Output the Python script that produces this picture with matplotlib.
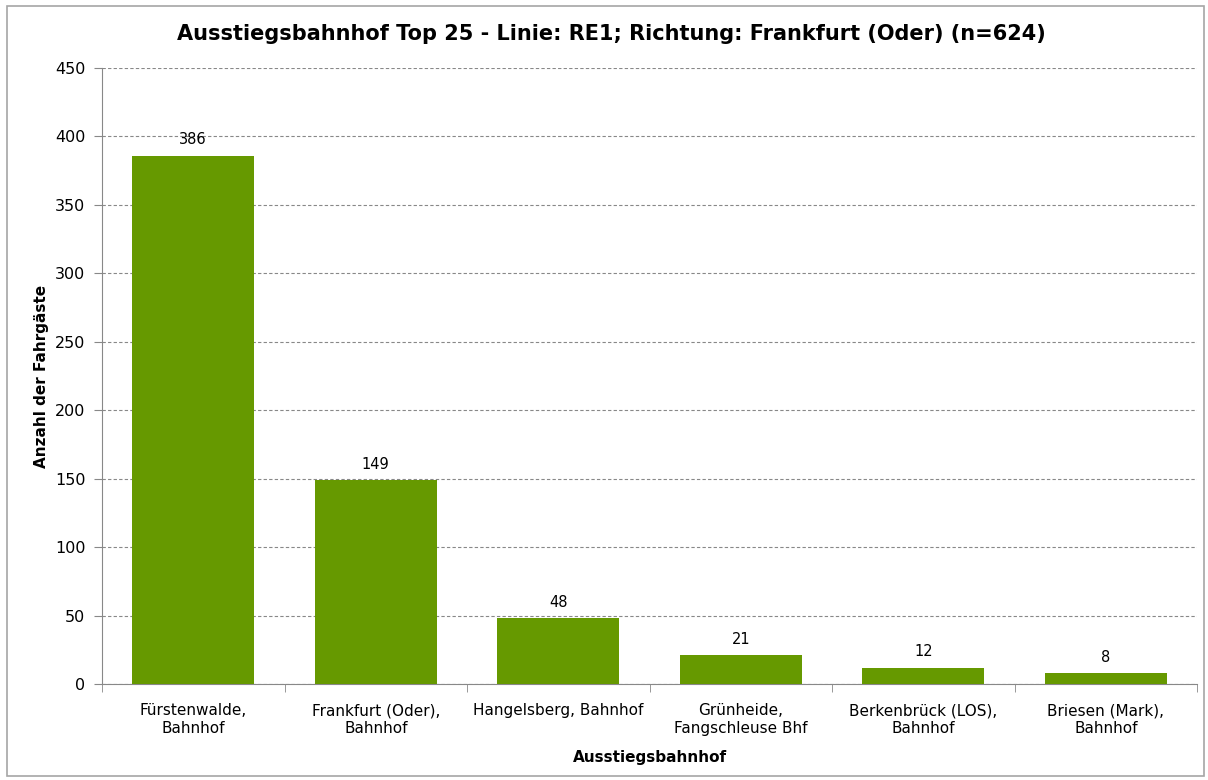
import numpy as np
import matplotlib.pyplot as plt
from matplotlib.patches import Rectangle

stations = ["Fürstenwalde,\nBahnhof", "Frankfurt (Oder),\nBahnhof", "Hangelsberg, Bahnhof",
            "Grünheide,\nFangschleuse Bhf", "Berkenbrück (LOS),\nBahnhof", "Briesen (Mark),\nBahnhof"]
counts = [386, 149, 48, 21, 12, 8]
yticks = [0, 50, 100, 150, 200, 250, 300, 350, 400, 450]

plt.rcParams['font.family'] = ['DejaVu Sans']
fig = plt.figure(figsize=(12.08, 7.8), dpi=100)
fig.patches.append(Rectangle((7 / 1208, 4 / 780), 1197 / 1208, 770 / 780, transform=fig.transFigure,
                             fill=False, edgecolor='#a6a6a6', linewidth=1.2))
ax = fig.add_axes([102 / 1208, 1 - 684 / 780, (1197 - 102) / 1208, (684 - 68) / 780])

xs = np.arange(len(counts))
bars = ax.bar(xs, counts, width=0.67, color='#669900', zorder=3)
for x, v in zip(xs, counts):
    ax.text(x, v + 6, str(v), ha='center', va='bottom', fontsize=10.5)

ax.set_xlim(-0.5, len(counts) - 0.5)
ax.set_ylim(0, 450)
ax.set_yticks(yticks)
ax.tick_params(axis='y', labelsize=11.5, length=6, color='#888888', pad=6)
ax.set_xticks(xs)
ax.set_xticklabels(stations, fontsize=11, linespacing=1.2)
ax.tick_params(axis='x', length=0, pad=14)
ax.set_xticks(np.arange(-0.5, len(counts)), minor=True)
ax.tick_params(axis='x', which='minor', length=6, color='#888888')
ax.grid(axis='y', color='#888888', linestyle=(0, (3, 2)), linewidth=0.8, zorder=0)
for s in ['top', 'right']:
    ax.spines[s].set_visible(False)
for s in ['left', 'bottom']:
    ax.spines[s].set_color('#888888')

ax.set_ylabel("Anzahl der Fahrgäste", fontsize=11, fontweight='bold', labelpad=4)
ax.set_xlabel("Ausstiegsbahnhof", fontsize=11, fontweight='bold', labelpad=10)
fig.text(0.506, 1 - 34 / 780, "Ausstiegsbahnhof Top 25 - Linie: RE1; Richtung: Frankfurt (Oder) (n=624)",
         ha='center', va='center', fontsize=15, fontweight='bold')

plt.savefig('out.png', dpi=100)
